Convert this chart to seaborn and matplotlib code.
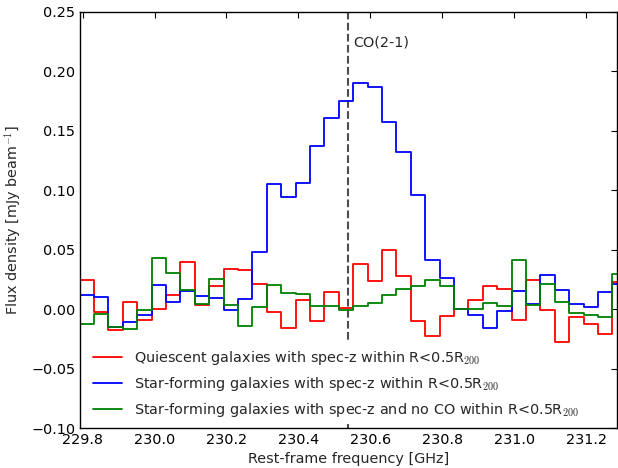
import numpy as np
import pandas as pd
import matplotlib
matplotlib.use("Agg")
import matplotlib.pyplot as plt
import seaborn as sns

# Stacked spectra around the CO(2-1) line, 0.04 GHz channels
freq_start = 229.792   # GHz, lower edge of the first channel
chan_width = 0.04      # GHz
co21_rest = 230.538    # GHz

quiescent = [0.0248, -0.0021, -0.0172, 0.0060, -0.0088, 0.0004, 0.0116, 0.0396,
             0.0032, 0.0192, 0.0337, 0.0332, 0.0210, -0.0027, -0.0158, 0.0074,
             -0.0100, 0.0141, 0.0007, 0.0382, 0.0240, 0.0497, 0.0282, -0.0100,
             -0.0228, -0.0060, 0.0000, 0.0080, 0.0195, 0.0172, -0.0094, 0.0242,
             -0.0007, -0.0279, -0.0063, -0.0122, -0.0211, 0.0225]

starforming = [0.0116, 0.0105, -0.0150, -0.0105, -0.0052, 0.0200, 0.0063, 0.0150,
               0.0113, 0.0094, -0.0007, 0.0085, 0.0478, 0.1057, 0.0947, 0.1063,
               0.1370, 0.1610, 0.1747, 0.1904, 0.1865, 0.1576, 0.1321, 0.0963,
               0.0410, 0.0259, 0.0004, -0.0046, -0.0158, -0.0018, 0.0150, 0.0046,
               0.0284, 0.0164, 0.0041, 0.0018, 0.0144, 0.0211]

sf_no_co = [-0.0127, -0.0043, -0.0147, -0.0170, -0.0007, 0.0433, 0.0304, 0.0164,
            0.0043, 0.0256, 0.0035, -0.0144, 0.0018, 0.0200, 0.0136, 0.0130,
            0.0029, 0.0029, -0.0004, 0.0027, 0.0052, 0.0122, 0.0172, 0.0192,
            0.0245, 0.0197, 0.0004, 0.0004, 0.0052, 0.0024, 0.0410, 0.0032,
            0.0214, 0.0060, -0.0032, -0.0046, -0.0063, 0.0298]

series_labels = [
    r"Quiescent galaxies with spec-z within R<0.5R$_{200}$",
    r"Star-forming galaxies with spec-z within R<0.5R$_{200}$",
    r"Star-forming galaxies with spec-z and no CO within R<0.5R$_{200}$",
]
series_colors = ["red", "blue", "green"]

x_ticks = [229.8, 230.0, 230.2, 230.4, 230.6, 230.8, 231.0, 231.2]
y_ticks = [-0.10, -0.05, 0.00, 0.05, 0.10, 0.15, 0.20, 0.25]

FS = 10.4

sns.set_style("white")
plt.rcParams.update({
    "font.family": ["DejaVu Sans"],
    "mathtext.fontset": "cm",
    "font.size": FS,
    "axes.linewidth": 1.0,
    "axes.edgecolor": "black",
    "xtick.direction": "in",
    "ytick.direction": "in",
    "xtick.top": True,
    "ytick.right": True,
    "xtick.major.size": 4,
    "ytick.major.size": 4,
    "xtick.major.width": 0.8,
    "ytick.major.width": 0.8,
    "xtick.color": "black",
    "ytick.color": "black",
})

# Long-form table: channel lower edges, with the last level repeated at the
# final upper edge so the step outline closes the last channel.
edges = freq_start + chan_width * np.arange(len(quiescent) + 1)
frames = []
for label, vals in zip(series_labels, [quiescent, starforming, sf_no_co]):
    frames.append(pd.DataFrame({
        "freq": edges,
        "flux": list(vals) + [vals[-1]],
        "series": label,
    }))
df = pd.concat(frames, ignore_index=True)

fig = plt.figure(figsize=(6.18, 4.68), dpi=100)
ax = fig.add_axes([80 / 618, 1 - 428 / 468, 537 / 618, 416 / 468])

sns.lineplot(data=df, x="freq", y="flux", hue="series", hue_order=series_labels,
             palette=series_colors, estimator=None, sort=False,
             drawstyle="steps-post", linewidth=1.3, legend=False, ax=ax)

ax.axvline(co21_rest, color="0.3", linestyle="--", linewidth=1.5, zorder=1)
ax.text(co21_rest + 0.013, 0.224, "CO(2-1)", fontsize=FS, va="center", ha="left")

ax.set_xlim(229.793, 231.285)
ax.set_ylim(-0.10, 0.25)
ax.set_xticks(x_ticks)
ax.set_xticklabels([f"{v:.1f}" for v in x_ticks])
ax.set_yticks(y_ticks)
ax.set_yticklabels([f"{v:.2f}".replace("-", "\u2212") for v in y_ticks])
ax.tick_params(labelsize=FS)
ax.set_xlabel("Rest-frame frequency [GHz]", fontsize=FS)
ax.set_ylabel(r"Flux density [mJy beam$^{-1}$]", fontsize=FS, labelpad=6)

handles = ax.get_lines()[:3]
leg = ax.legend(handles, series_labels, loc="lower left",
                bbox_to_anchor=(0.007, 0.0), borderaxespad=0.25, fontsize=FS,
                frameon=True, fancybox=False, framealpha=1.0,
                facecolor="white", edgecolor="none", handlelength=2.0,
                labelspacing=0.55)
leg.set_zorder(5)

fig.savefig("out.png", dpi=100)
